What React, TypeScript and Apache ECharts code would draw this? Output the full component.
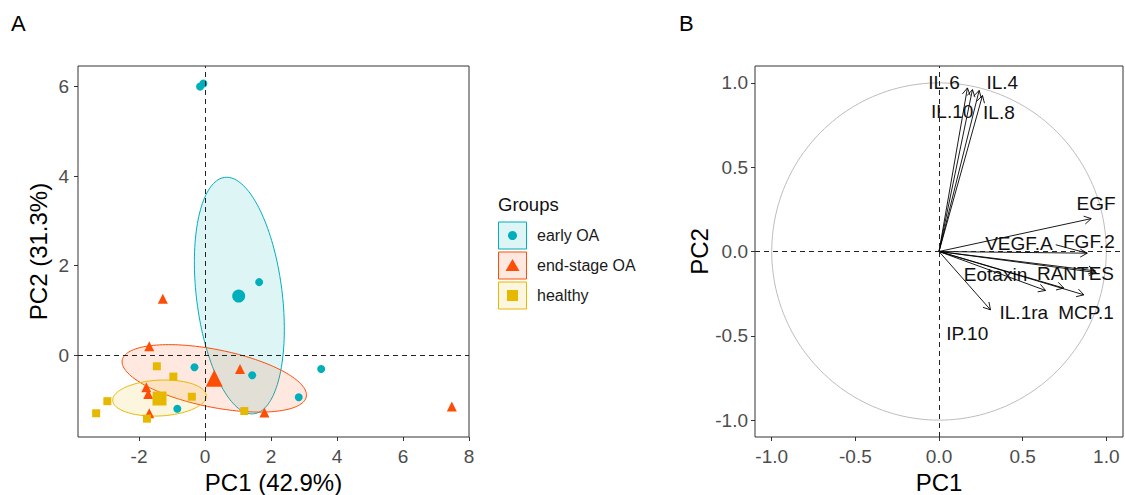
import React, { useEffect, useRef } from "react";
import * as echarts from "echarts";

// ---------- Panel A data (individuals) ----------
const earlyOA_PC1 = [-0.15, -0.05, 1.64, -0.32, 1.43, 3.52, 2.84, -0.84];
const earlyOA_PC2 = [6.0, 6.07, 1.63, -0.27, -0.45, -0.31, -0.94, -1.2];
const endStage_PC1 = [-1.28, -1.69, 1.06, -1.78, -1.72, -1.69, 1.8, 7.48];
const endStage_PC2 = [1.26, 0.2, -0.31, -0.72, -0.87, -1.3, -1.28, -1.15];
const healthy_PC1 = [-1.46, -0.96, -0.4, -2.96, -3.3, -1.76, 1.19];
const healthy_PC2 = [-0.25, -0.48, -0.93, -1.03, -1.3, -1.42, -1.25];
const groupNames = ["early OA", "end-stage OA", "healthy"];
const groupMeanPC1 = [1.02, 0.28, -1.38];
const groupMeanPC2 = [1.32, -0.52, -0.97];
// ellipses: centre x, centre y, semi-major, semi-minor, angle (deg)
const ellipseCX = [1.04, 0.28, -1.38];
const ellipseCY = [1.33, -0.52, -0.96];
const ellipseA = [2.68, 2.82, 1.42];
const ellipseB = [1.29, 0.65, 0.4];
const ellipseAngle = [100.8, -8, 2];
const pcaXTicks = [-2, 0, 2, 4, 6, 8];
const pcaYTicks = [0, 2, 4, 6];

// ---------- Panel B data (variables) ----------
const varNames = ["IL.6", "IL.10", "IL.4", "IL.8", "EGF", "VEGF.A", "FGF.2", "RANTES", "Eotaxin", "IP.10", "MCP.1", "IL.1ra"];
const varPC1 = [0.17, 0.2, 0.24, 0.26, 0.91, 0.886, 0.935, 0.94, 0.637, 0.746, 0.866, 0.308];
const varPC2 = [0.97, 0.96, 0.955, 0.925, 0.195, -0.01, -0.115, -0.125, -0.231, -0.217, -0.257, -0.346];
const labelPC1 = [0.03, 0.079, 0.378, 0.358, 0.939, 0.478, 0.896, 0.816, 0.338, 0.169, 0.879, 0.507];
const labelPC2 = [1.0, 0.83, 1.0, 0.824, 0.283, 0.046, 0.059, -0.128, -0.138, -0.484, -0.359, -0.359];
const circleRadius = [1];
const varTicks = [-1, -0.5, 0, 0.5, 1];

const COLORS = ["#00AFBB", "#FC4E07", "#E7B800"];
const FILLS = ["rgba(0,175,187,0.13)", "rgba(252,78,7,0.13)", "rgba(231,184,0,0.13)"];
const SYMBOLS = ["circle", "triangle", "rect"];
const SMALL = [8, 10, 8];
const BIG = [13, 17, 14];
const FONT = "'Liberation Sans', Arial, Helvetica, sans-serif";

const zip = (a: number[], b: number[]) => a.map((v, i) => [v, b[i]]);

export default function App() {
  const ref = useRef<HTMLDivElement>(null);
  useEffect(() => {
    if (!ref.current) return;
    const chart = echarts.init(ref.current, undefined, { renderer: "svg" });
    const groupData = [
      zip(earlyOA_PC1, earlyOA_PC2),
      zip(endStage_PC1, endStage_PC2),
      zip(healthy_PC1, healthy_PC2),
    ];
    const dashed = { color: "#222", width: 1, type: [5, 4] as any };
    const axisCommon = (ticks: number[], margin: number, fmt?: (v: number) => string) => ({
      type: "value" as const,
      splitLine: { show: false },
      axisLine: { show: false, onZero: false },
      axisTick: { show: true, length: 4, lineStyle: { color: "#333" }, customValues: ticks },
      axisLabel: {
        customValues: ticks,
        color: "#4D4D4D",
        fontSize: 19,
        fontFamily: FONT,
        margin,
        formatter: fmt ? (v: number) => fmt(v) : undefined,
      },
      nameLocation: "middle" as const,
      nameTextStyle: { fontSize: 24, lineHeight: 24, color: "#000", fontFamily: FONT },
    });
    const fmt1 = (v: number) => v.toFixed(1);

    const series: any[] = [];
    // ellipses
    series.push({
      type: "custom",
      xAxisIndex: 0,
      yAxisIndex: 0,
      z: 2,
      silent: true,
      clip: false,
      data: ellipseCX.map((cx, i) => [cx, ellipseCY[i], ellipseA[i], ellipseB[i], ellipseAngle[i]]),
      encode: { x: 0, y: 1 },
      renderItem: (params: any, api: any) => {
        const cx = api.value(0), cy = api.value(1), a = api.value(2), b = api.value(3);
        const ang = (api.value(4) * Math.PI) / 180;
        const pts: number[][] = [];
        for (let k = 0; k <= 160; k++) {
          const t = (k / 160) * Math.PI * 2;
          const x = cx + a * Math.cos(t) * Math.cos(ang) - b * Math.sin(t) * Math.sin(ang);
          const y = cy + a * Math.cos(t) * Math.sin(ang) + b * Math.sin(t) * Math.cos(ang);
          pts.push(api.coord([x, y]));
        }
        const i = params.dataIndex;
        return {
          type: "polygon",
          shape: { points: pts },
          style: { fill: FILLS[i], stroke: COLORS[i], lineWidth: 1 },
        };
      },
    });
    groupData.forEach((d, i) => {
      series.push({
        type: "scatter",
        xAxisIndex: 0,
        yAxisIndex: 0,
        z: 3,
        symbol: SYMBOLS[i],
        symbolSize: SMALL[i],
        itemStyle: { color: COLORS[i], opacity: 1 },
        data: d,
        markLine:
          i === 0
            ? {
                silent: true,
                symbol: "none",
                label: { show: false },
                lineStyle: dashed,
                data: [{ xAxis: 0 }, { yAxis: 0 }],
              }
            : undefined,
      });
      series.push({
        type: "scatter",
        xAxisIndex: 0,
        yAxisIndex: 0,
        z: 4,
        symbol: SYMBOLS[i],
        symbolSize: BIG[i],
        itemStyle: { color: COLORS[i], opacity: 1 },
        data: [[groupMeanPC1[i], groupMeanPC2[i]]],
      });
    });

    // Panel B: circle
    series.push({
      type: "custom",
      xAxisIndex: 1,
      yAxisIndex: 1,
      z: 2,
      silent: true,
      data: circleRadius.map((r) => [0, 0, r]),
      encode: { x: 0, y: 1 },
      renderItem: (_p: any, api: any) => {
        const r = api.value(2);
        const pts: number[][] = [];
        for (let k = 0; k <= 200; k++) {
          const t = (k / 200) * Math.PI * 2;
          pts.push(api.coord([r * Math.cos(t), r * Math.sin(t)]));
        }
        return { type: "polyline", shape: { points: pts }, style: { stroke: "#BDBDBD", fill: "none", lineWidth: 1 } };
      },
      markLine: {
        silent: true,
        symbol: "none",
        label: { show: false },
        lineStyle: dashed,
        data: [{ xAxis: 0 }, { yAxis: 0 }],
      },
    });
    // Panel B: arrows + labels
    series.push({
      type: "custom",
      xAxisIndex: 1,
      yAxisIndex: 1,
      z: 3,
      silent: true,
      clip: false,
      data: varPC1.map((x, i) => [x, varPC2[i], labelPC1[i], labelPC2[i]]),
      encode: { x: 0, y: 1 },
      renderItem: (params: any, api: any) => {
        const o = api.coord([0, 0]);
        const e = api.coord([api.value(0), api.value(1)]);
        const lp = api.coord([api.value(2), api.value(3)]);
        const ang = Math.atan2(e[1] - o[1], e[0] - o[0]);
        const L = 8, sp = Math.PI / 6;
        const h1 = [e[0] - L * Math.cos(ang - sp), e[1] - L * Math.sin(ang - sp)];
        const h2 = [e[0] - L * Math.cos(ang + sp), e[1] - L * Math.sin(ang + sp)];
        const name = varNames[params.dataIndex];
        const children: any[] = [
          { type: "line", shape: { x1: o[0], y1: o[1], x2: e[0], y2: e[1] }, style: { stroke: "#000", lineWidth: 0.9 } },
          { type: "polyline", shape: { points: [h1, e, h2] }, style: { stroke: "#000", fill: "none", lineWidth: 0.9 } },
        ];
        if (name === "VEGF.A") {
          const s = api.coord([api.value(2) + 0.22, api.value(3) - 0.006]);
          children.push({ type: "line", shape: { x1: s[0], y1: s[1], x2: e[0], y2: e[1] }, style: { stroke: "#000", lineWidth: 0.9 } });
        }
        children.push({
          type: "text",
          x: lp[0],
          y: lp[1],
          style: { text: name, fontSize: 19, fontFamily: FONT, fill: "#111", align: "center", verticalAlign: "middle" },
        });
        return { type: "group", children };
      },
    });

    const gridCommon = {
      show: true,
      borderColor: "#333",
      borderWidth: 1,
      backgroundColor: "transparent",
      containLabel: false,
      outerBoundsMode: "none",
    };

    const option: any = {
      animation: false,
      textStyle: { fontFamily: FONT },
      grid: [
        { ...gridCommon, left: 78, top: 66, width: 391, height: 371 },
        { ...gridCommon, left: 755, top: 66, width: 368, height: 371 },
      ],
      xAxis: [
        { ...axisCommon(pcaXTicks, 10), gridIndex: 0, min: -3.85, max: 8.0, name: "PC1 (42.9%)", nameGap: 20 },
        { ...axisCommon(varTicks, 10, fmt1), gridIndex: 1, min: -1.1, max: 1.1, name: "PC1", nameGap: 22 },
      ],
      yAxis: [
        { ...axisCommon(pcaYTicks, 9), gridIndex: 0, min: -1.83, max: 6.46, name: "PC2 (31.3%)", nameGap: 28 },
        { ...axisCommon(varTicks, 7, fmt1), gridIndex: 1, min: -1.1, max: 1.1, name: "PC2", nameGap: 43 },
      ],
      series,
      graphic: [
        { type: "text", left: 11, top: 12, style: { text: "A", fontSize: 22, fontFamily: FONT, fill: "#000" } },
        { type: "text", left: 679, top: 12, style: { text: "B", fontSize: 22, fontFamily: FONT, fill: "#000" } },
        { type: "text", left: 498, top: 195, style: { text: "Groups", fontSize: 18.5, fontFamily: FONT, fill: "#111" } },
        ...groupNames.flatMap((g, i) => {
          const y0 = 222 + i * 30;
          const cx = 512.5, cy = y0 + 13.5;
          let sym: any;
          if (i === 0) sym = { type: "circle", shape: { cx, cy, r: 4.5 }, style: { fill: COLORS[i] } };
          else if (i === 1)
            sym = { type: "polygon", shape: { points: [[cx, cy - 6.5], [cx - 7, cy + 5.5], [cx + 7, cy + 5.5]] }, style: { fill: COLORS[i] } };
          else sym = { type: "rect", shape: { x: cx - 5.5, y: cy - 5.5, width: 11, height: 11 }, style: { fill: COLORS[i] } };
          return [
            { type: "rect", shape: { x: 498.5, y: y0, width: 28, height: 27 }, style: { fill: FILLS[i], stroke: COLORS[i], lineWidth: 1 } },
            sym,
            { type: "text", x: 537, y: cy, style: { text: g, fontSize: 16, fontFamily: FONT, fill: "#1a1a1a", verticalAlign: "middle" } },
          ];
        }),
      ],
    };
    chart.setOption(option);
    return () => chart.dispose();
  }, []);
  return (
    <div
      ref={ref}
      style={{ position: "fixed", left: 0, top: 0, width: 1125, height: 495, background: "#fff" }}
    />
  );
}
